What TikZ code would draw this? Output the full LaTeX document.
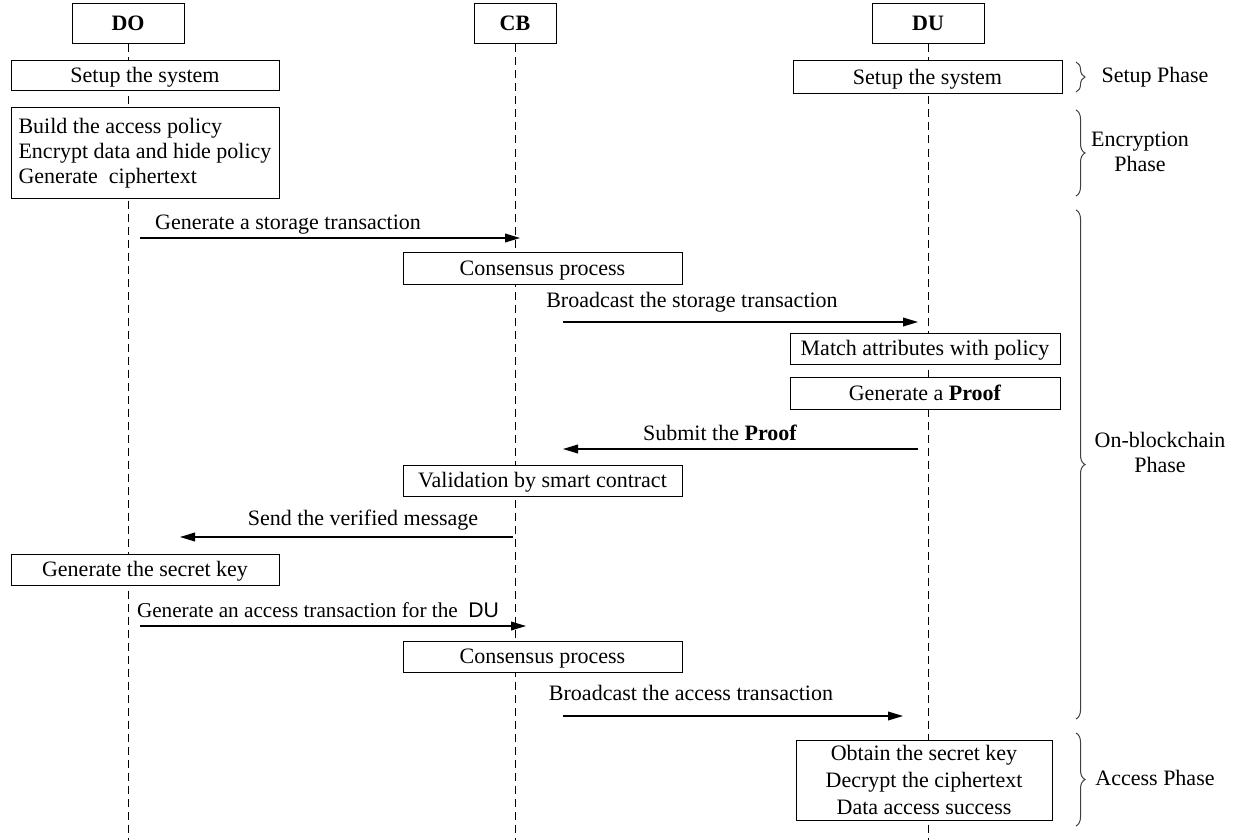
\documentclass[tikz,border=0pt]{standalone}
\usepackage{fontspec}
\setmainfont{Liberation Serif}
\newfontfamily\sansf{Liberation Sans}
\usetikzlibrary{arrows.meta,decorations.pathreplacing}
\begin{document}
\begin{tikzpicture}[x=0.5pt,y=-0.5pt,
  font=\fontsize{11pt}{12.5pt}\selectfont,
  mbox/.style={draw,line width=0.5pt,fill=white,inner sep=0pt,align=center},
  box/.style={mbox,text height=8pt,text depth=1pt},
  head/.style={box,font=\fontsize{11pt}{12.5pt}\selectfont\bfseries},
  life/.style={line width=0.5pt,dash pattern=on 4pt off 2.5pt},
  msg/.style={line width=0.55pt,-{Triangle[length=7.5pt,width=4.4pt]}},
  lbl/.style={inner sep=0pt,text height=8pt,text depth=1pt},
  phbrace/.style={decorate,decoration={brace,amplitude=4.5pt},line width=0.5pt,draw=black!75},
  phase/.style={align=center,inner sep=0pt,font=\fontsize{11pt}{12.5pt}\selectfont}]
\useasboundingbox (0,0) rectangle (1252,840);
% headers
\node[head,minimum width=56pt,minimum height=20pt] (hDO) at (128,24) {DO};
\node[head,minimum width=41pt,minimum height=20pt] (hCB) at (515,24) {CB};
\node[head,minimum width=56pt,minimum height=20pt] (hDU) at (928,24) {DU};
% lifeline ends
\coordinate (eDO) at (128,840);
\coordinate (eCB) at (515,840);
\coordinate (eDU) at (928,840);
\draw[life] (hDO.south) -- (eDO);
\draw[life] (hCB.south) -- (eCB);
\draw[life] (hDU.south) -- (eDU);
% boxes
\node[box,minimum width=134pt,minimum height=15pt] (s1) at (145,76) {Setup the system};
\node[box,minimum width=134.5pt,minimum height=16.5pt] (s2) at (927.5,77.5) {Setup the system};
\node[mbox,minimum width=134pt,minimum height=45pt,align=left] (enc) at (145,153)
  {Build the access policy\\Encrypt data and hide policy\\Generate\ \ ciphertext};
\node[box,minimum width=139.5pt,minimum height=16pt] (cons1) at (542.5,268) {Consensus process};
\node[box,minimum width=135pt,minimum height=15.5pt] (match) at (925,348.5) {Match attributes with policy};
\node[box,minimum width=135pt,minimum height=16pt] (proof) at (925,393) {Generate a \textbf{Proof}};
\node[box,minimum width=139.5pt,minimum height=15.5pt] (valid) at (542.5,480.5) {Validation by smart contract};
\node[box,minimum width=134pt,minimum height=15.5pt] (gsk) at (145,569.5) {Generate the secret key};
\node[box,minimum width=139.5pt,minimum height=15.5pt] (cons2) at (542.5,656.5) {Consensus process};
\node[mbox,minimum width=128pt,minimum height=40pt,font=\fontsize{11pt}{13.3pt}\selectfont] (fin) at (924,780)
  {Obtain the secret key\\Decrypt the ciphertext\\Data access success};
% messages
\coordinate (m1a) at (140,238); \coordinate (m1b) at (520,238);
\coordinate (m2a) at (563,322); \coordinate (m2b) at (918,322);
\coordinate (m3a) at (918,449); \coordinate (m3b) at (563,449);
\coordinate (m4a) at (513,537); \coordinate (m4b) at (180,537);
\coordinate (m5a) at (140,626); \coordinate (m5b) at (526,626);
\coordinate (m6a) at (563,716); \coordinate (m6b) at (903,716);
\draw[msg] (m1a) -- (m1b);
\draw[msg] (m2a) -- (m2b);
\draw[msg] (m3a) -- (m3b);
\draw[msg] (m4a) -- (m4b);
\draw[msg] (m5a) -- (m5b);
\draw[msg] (m6a) -- (m6b);
\node[lbl] (l1) at (288,222) {Generate a storage transaction};
\node[lbl] (l2) at (692,300) {Broadcast the storage transaction};
\node[lbl] (l3) at (720,433) {Submit the \textbf{Proof}};
\node[lbl] (l4) at (363,518) {Send the verified message};
\node[lbl,font=\fontsize{10.6pt}{12pt}\selectfont] (l5) at (318,610) {Generate an access transaction for the\ \ {\sansf DU}};
\node[lbl] (l6) at (691,693) {Broadcast the access transaction};
% phases
\coordinate (b1a) at (1076,62);  \coordinate (b1b) at (1076,92);
\coordinate (b2a) at (1076,110); \coordinate (b2b) at (1076,196);
\coordinate (b3a) at (1076,210); \coordinate (b3b) at (1076,719);
\coordinate (b4a) at (1076,733); \coordinate (b4b) at (1076,826);
\draw[phbrace] (b1a) -- (b1b);
\draw[phbrace] (b2a) -- (b2b);
\draw[phbrace] (b3a) -- (b3b);
\draw[phbrace] (b4a) -- (b4b);
\node[phase] (p1) at (1155,77) {Setup Phase};
\node[phase] (p2) at (1140,152) {Encryption\\Phase};
\node[phase] (p3) at (1160,452) {On-blockchain\\Phase};
\node[phase] (p4) at (1155,778) {Access Phase};
\end{tikzpicture}
\end{document}
